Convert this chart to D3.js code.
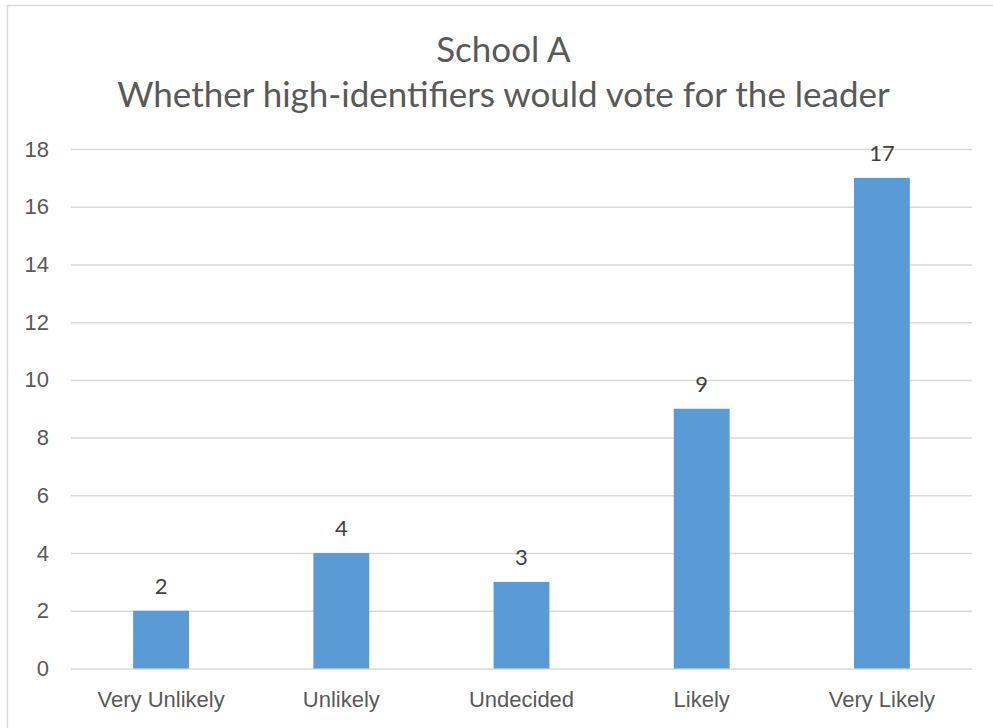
<!DOCTYPE html>
<html>
<head>
<meta charset="utf-8">
<script src="https://cdn.jsdelivr.net/npm/d3@7"></script>
<style>
  body { margin: 0; background: #fff; }
  svg { display: block; font-family: Lato, "Noto Sans", sans-serif; }
</style>
</head>
<body>
<svg id="chart" width="993" height="728"></svg>
<script>
const categories = ["Very Unlikely", "Unlikely", "Undecided", "Likely", "Very Likely"];
const counts = [2, 4, 3, 9, 17];
const yTicks = [0, 2, 4, 6, 8, 10, 12, 14, 16, 18];
const titleLines = ["School A", "Whether high-identifiers would vote for the leader"];

const svg = d3.select("#chart");
const width = 993, height = 728;
const margin = {top: 149, right: 21, bottom: 59, left: 71};

// outer chart border (continues past the window on the right and bottom)
svg.append("rect")
  .attr("x", 7.5).attr("y", 5.5)
  .attr("width", 1000).attr("height", 800)
  .attr("fill", "none").attr("stroke", "#d9d9d9").attr("stroke-width", 1.5);

const x = d3.scaleBand()
  .domain(categories)
  .range([margin.left, width - margin.right])
  .paddingInner(0.69)
  .paddingOuter(0.345);

const y = d3.scaleLinear()
  .domain([0, 18])
  .range([height - margin.bottom - 0.5, margin.top]);

// title
svg.append("g")
  .selectAll("text")
  .data(titleLines)
  .join("text")
  .attr("x", width / 2 + 7)
  .attr("y", (d, i) => 62 + i * 45)
  .attr("text-anchor", "middle")
  .attr("fill", "#595959")
  .attr("font-size", 35)
  .text(d => d);

// gridlines + y labels
const yAxis = g => g
  .attr("transform", `translate(${margin.left},0)`)
  .call(d3.axisLeft(y).tickValues(yTicks).tickSize(-(width - margin.left - margin.right)).tickPadding(22))
  .call(g => g.select(".domain").remove())
  .call(g => g.selectAll(".tick line").attr("stroke", "#d9d9d9").attr("stroke-width", 1.5))
  .call(g => g.selectAll(".tick text").attr("fill", "#595959").attr("font-size", 22).attr("font-family", "inherit"));

svg.append("g").call(yAxis);

// x labels
const xAxis = g => g
  .attr("transform", `translate(0,${height - margin.bottom})`)
  .call(d3.axisBottom(x).tickSize(0).tickPadding(22))
  .call(g => g.select(".domain").remove())
  .call(g => g.selectAll(".tick text").attr("fill", "#595959").attr("font-size", 22).attr("font-family", "inherit"));

svg.append("g").call(xAxis);

// bars
svg.append("g")
  .attr("fill", "#5b9bd5")
  .selectAll("rect")
  .data(counts)
  .join("rect")
  .attr("x", (d, i) => x(categories[i]))
  .attr("width", x.bandwidth())
  .attr("y", d => y(d))
  .attr("height", d => y(0) - y(d));

// data labels
svg.append("g")
  .selectAll("text")
  .data(counts)
  .join("text")
  .attr("x", (d, i) => x(categories[i]) + x.bandwidth() / 2)
  .attr("y", d => y(d) - 17)
  .attr("text-anchor", "middle")
  .attr("fill", "#404040")
  .attr("font-size", 22)
  .text(d => d);
</script>
</body>
</html>
